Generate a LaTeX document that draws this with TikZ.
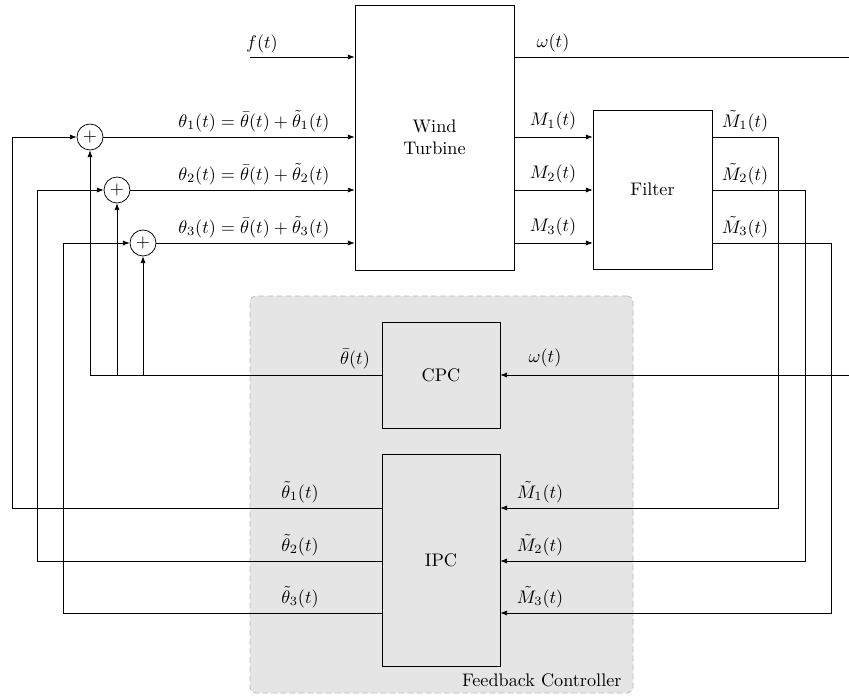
\documentclass[tikz,border=0pt]{standalone}
\usepackage{amsmath}
\usepackage{amssymb}
\usepackage{tikz}
\usetikzlibrary{arrows.meta,calc,positioning}
\tikzset{
    ctrl block/.style={
        draw,
        align=center,
        inner sep=0pt
    },
    ctrl sum/.style={
        draw,
        circle,
        fill=white,
        minimum size=14.3pt,
        inner sep=0pt
    },
    ctrl area/.style={
        draw=black!28,
        dash pattern=on 3pt off 2pt,
        fill=black!10,
        rounded corners=3pt
    },
    ctrl arrow/.style={-{Latex[length=1.3mm,width=1mm]}},
    ctrl line/.style={-}
}

\begin{document}
\begin{tikzpicture}[x=0.55pt,y=-0.55pt]
    \useasboundingbox (0,0) rectangle (849,696);

    \node[ctrl area, minimum width=210.65pt, minimum height=218.35pt] (fbc) at (441.5,494.5) {};
    \node[anchor=south east] (fbclabel) at ([xshift=-3pt]fbc.south east) {Feedback Controller};

    \node[ctrl block, minimum width=87.45pt, minimum height=145.75pt] (wt) at (434.5,137.5) {Wind\\Turbine};
    \node[ctrl block, minimum width=65.45pt, minimum height=87.45pt] (filter) at (652.5,189.5) {Filter};
    \node[ctrl block, minimum width=64.9pt, minimum height=58.3pt] (cpc) at (441,375) {CPC};
    \node[ctrl block, minimum width=64.9pt, minimum height=116.6pt] (ipc) at (441,560.5) {IPC};

    \node[ctrl sum] (sum1) at (90,137) {$+$};
    \node[ctrl sum] (sum2) at (117,190) {$+$};
    \node[ctrl sum] (sum3) at (143,243) {$+$};

    \coordinate (fin) at (250,57);
    \coordinate (wout) at (849,57);
    \coordinate (win) at (849,375);
    \coordinate (fb1) at (12,137);
    \coordinate (fb2) at (37,190);
    \coordinate (fb3) at (63,243);
    \coordinate (mt1) at (778,137);
    \coordinate (mt2) at (805,190);
    \coordinate (mt3) at (831,243);
    \coordinate (r1) at (0,508);
    \coordinate (r2) at (0,561);
    \coordinate (r3) at (0,613);

    \node (flabel) at (262,44) {$f(t)$};
    \node (wlabel) at (553,43) {$\omega(t)$};
    \node (th1label) at (254,121) {$\theta_1(t) = \bar{\theta}(t) + \tilde{\theta}_1(t)$};
    \node (th2label) at (254,174) {$\theta_2(t) = \bar{\theta}(t) + \tilde{\theta}_2(t)$};
    \node (th3label) at (254,227) {$\theta_3(t) = \bar{\theta}(t) + \tilde{\theta}_3(t)$};
    \node (m1label) at (553,121) {$M_1(t)$};
    \node (m2label) at (553,174) {$M_2(t)$};
    \node (m3label) at (553,227) {$M_3(t)$};
    \node (mt1label) at (745,121) {$\tilde{M}_1(t)$};
    \node (mt2label) at (745,174) {$\tilde{M}_2(t)$};
    \node (mt3label) at (745,227) {$\tilde{M}_3(t)$};
    \node (thbarlabel) at (355,359) {$\bar{\theta}(t)$};
    \node (wcpclabel) at (545,358) {$\omega(t)$};
    \node (tht1label) at (300,492) {$\tilde{\theta}_1(t)$};
    \node (tht2label) at (300,545) {$\tilde{\theta}_2(t)$};
    \node (tht3label) at (300,597) {$\tilde{\theta}_3(t)$};
    \node (mi1label) at (540,492) {$\tilde{M}_1(t)$};
    \node (mi2label) at (540,545) {$\tilde{M}_2(t)$};
    \node (mi3label) at (540,597) {$\tilde{M}_3(t)$};

    \draw[ctrl arrow] (fin) -- (wt.west |- fin);
    \draw[ctrl line] (wt.east |- wout) -- (wout);
    \draw[ctrl arrow] (win) -- (cpc.east);

    \draw[ctrl arrow] (sum1) -- (wt.west |- sum1);
    \draw[ctrl arrow] (sum2) -- (wt.west |- sum2);
    \draw[ctrl arrow] (sum3) -- (wt.west |- sum3);

    \draw[ctrl arrow] (wt.east |- mt1) -- (filter.west |- mt1);
    \draw[ctrl arrow] (wt.east |- mt2) -- (filter.west |- mt2);
    \draw[ctrl arrow] (wt.east |- mt3) -- (filter.west |- mt3);

    \draw[ctrl arrow] (filter.east |- mt1) -- (mt1) |- (ipc.east |- r1);
    \draw[ctrl arrow] (filter.east |- mt2) -- (mt2) |- (ipc.east |- r2);
    \draw[ctrl arrow] (filter.east |- mt3) -- (mt3) |- (ipc.east |- r3);

    \draw[ctrl arrow] (ipc.west |- r1) -| (fb1) -- (sum1);
    \draw[ctrl arrow] (ipc.west |- r2) -| (fb2) -- (sum2);
    \draw[ctrl arrow] (ipc.west |- r3) -| (fb3) -- (sum3);

    \draw[ctrl line] (cpc.west) -- (sum1 |- cpc.west);
    \draw[ctrl arrow] (sum1 |- cpc.west) -- (sum1);
    \draw[ctrl arrow] (sum2 |- cpc.west) -- (sum2);
    \draw[ctrl arrow] (sum3 |- cpc.west) -- (sum3);
\end{tikzpicture}
\end{document}
